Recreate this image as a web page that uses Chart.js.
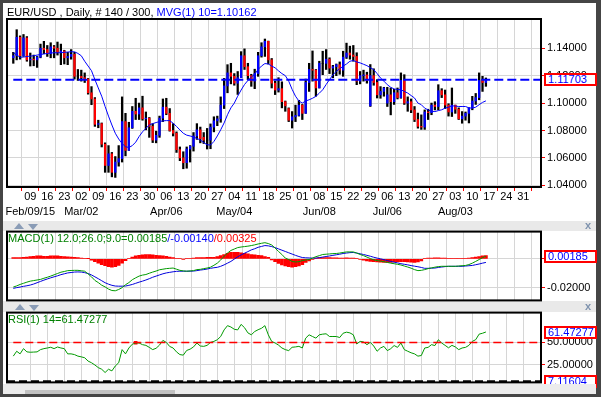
<!DOCTYPE html>
<html><head><meta charset="utf-8">
<script src="https://cdn.jsdelivr.net/npm/chart.js@4.4.1/dist/chart.umd.min.js"></script>
<style>
html,body{margin:0;padding:0;}
body{width:601px;height:397px;background:#454545;position:relative;overflow:hidden;font-family:"Liberation Sans",Arial,sans-serif;}
#inner{position:absolute;left:3px;top:3px;width:593px;height:391px;background:#fff;z-index:0;}
canvas{position:absolute;left:0;z-index:2;}
.sep{position:absolute;left:3px;width:593px;background:#e9e9e9;z-index:1;}
.txt{position:absolute;font-size:11px;white-space:nowrap;line-height:13px;z-index:5;}
.box{position:absolute;left:544px;width:47px;height:9px;border:2px solid #ff0000;background:#fff;color:#0000ff;font-size:11px;line-height:9px;padding-left:2px;white-space:nowrap;z-index:5;}
.up{position:absolute;width:0;height:0;border-left:5px solid transparent;border-right:5px solid transparent;border-bottom:6px solid #8a9cb6;z-index:4;}
.dn{position:absolute;width:0;height:0;border-left:5px solid transparent;border-right:5px solid transparent;border-top:6px solid #8a9cb6;z-index:4;}
.cl{position:absolute;font-size:11px;font-weight:bold;color:#7f93ae;z-index:4;line-height:11px;}
#bottom{position:absolute;left:3px;top:384px;width:593px;height:10px;background:#ececec;z-index:6;}
#thumb{position:absolute;left:22px;top:6px;width:150px;height:4px;background:#c2c2c2;}
</style></head>
<body>
<div id="inner"></div>
<div class="txt" style="left:7px;top:6px;color:#000">EUR/USD , Daily, # 140 / 300, <span style="color:#0000ff">MVG(1) 10=1.10162</span></div>
<div class="sep" style="top:221px;height:10px"></div>
<div class="up" style="left:14px;top:223px"></div><div class="dn" style="left:28px;top:224px"></div>
<div class="cl" style="left:585px;top:220px">x</div>
<div class="sep" style="top:301px;height:11px"></div>
<div class="up" style="left:15px;top:304px"></div><div class="dn" style="left:29px;top:305px"></div>
<div class="cl" style="left:585px;top:301px">x</div>
<div id="bottom"><div id="thumb"></div></div>
<div class="txt" style="left:8px;top:232px;color:#008000">MACD(1) 12.0;26.0;9.0=0.00185<span style="color:#0000ff">/-0.00140</span><span style="color:#ff0000">/0.00325</span></div>
<div class="txt" style="left:8px;top:313px;color:#008000">RSI(1) 14=61.47277</div>
<div class="box" id="bPrice">1.11703</div>
<div class="box" id="bMacd">0.00185</div>
<div class="box" id="bRsi">61.47277</div>
<div class="box" id="bRsiLow">7.11604</div>
<canvas id="cMain" width="601" height="222" style="top:0px"></canvas>
<canvas id="cMacd" width="601" height="86" style="top:223px"></canvas>
<canvas id="cRsi" width="601" height="87" style="top:304px"></canvas>
<script>
// ---- data (bar index 0 = Feb 2 2015, 140 daily bars to Aug 14 2015) ----
const open = [
1.1330,1.1345,1.1480,1.1345,1.1475,1.1315,1.1320,1.1315,1.1335,1.1400,
1.1390,1.1360,1.1410,1.1400,1.1370,1.1380,1.1330,1.1340,1.1355,1.1195,
1.1195,1.1185,1.1175,1.1075,1.1030,1.0845,1.0850,1.0700,1.0545,1.0630,
1.0495,1.0570,1.0595,1.0865,1.0655,1.0820,1.0940,1.0920,1.0965,1.0885,
1.0890,1.0830,1.0730,1.0765,1.0890,1.0970,1.0925,1.0800,1.0780,1.0660,
1.0600,1.0565,1.0665,1.0685,1.0760,1.0805,1.0750,1.0730,1.0730,1.0825,
1.0870,1.0885,1.0985,1.1125,1.1220,1.1195,1.1145,1.1185,1.1345,1.1265,
1.1200,1.1160,1.1215,1.1345,1.1410,1.1450,1.1315,1.1145,1.1095,1.1105,
1.1010,1.0960,1.0875,1.0900,1.0910,1.0985,1.0925,1.1150,1.1245,1.1240,
1.1110,1.1290,1.1290,1.1320,1.1255,1.1265,1.1280,1.1240,1.1335,1.1365,
1.1350,1.1340,1.1160,1.1200,1.1205,1.0980,1.1200,1.1150,1.1060,1.1085,
1.1000,1.1060,1.1010,1.1075,1.1040,1.1165,1.1000,1.1010,1.0950,1.0880,
1.0830,1.0825,1.0935,1.0930,1.0985,1.0975,1.1090,1.1060,1.0985,1.0935,
1.0985,1.0955,1.0885,1.0905,1.0925,1.0965,1.1015,1.1040,1.1165,1.1150];
const high = [
1.1370,1.1535,1.1490,1.1500,1.1485,1.1365,1.1350,1.1340,1.1430,1.1450,
1.1420,1.1440,1.1420,1.1445,1.1430,1.1385,1.1370,1.1390,1.1370,1.1245,
1.1240,1.1220,1.1180,1.1120,1.1040,1.0875,1.0855,1.0710,1.0690,1.0640,
1.0610,1.0690,1.1045,1.0925,1.0860,1.0975,1.1035,1.1000,1.1050,1.0935,
1.0895,1.0850,1.0795,1.0905,1.1030,1.1035,1.0960,1.0850,1.0790,1.0680,
1.0645,1.0680,1.0690,1.0785,1.0850,1.0825,1.0785,1.0815,1.0848,1.0900,
1.0905,1.1045,1.1180,1.1280,1.1290,1.1215,1.1230,1.1375,1.1395,1.1290,
1.1210,1.1247,1.1370,1.1440,1.1467,1.1452,1.1325,1.1160,1.1185,1.1155,
1.1015,1.0965,1.0938,1.0985,1.1020,1.0990,1.1175,1.1290,1.1380,1.1245,
1.1305,1.1378,1.1390,1.1330,1.1275,1.1285,1.1300,1.1378,1.1437,1.1415,
1.1420,1.1367,1.1230,1.1240,1.1225,1.1281,1.1250,1.1171,1.1120,1.1115,
1.1115,1.1110,1.1100,1.1110,1.1220,1.1207,1.1045,1.1030,1.0975,1.0927,
1.0914,1.0950,1.0955,1.1000,1.1010,1.1134,1.1105,1.1095,1.0995,1.1110,
1.0985,1.0965,1.0938,1.0935,1.0965,1.1049,1.1070,1.1220,1.1195,1.1183];
const low = [
1.1290,1.1315,1.1320,1.1340,1.1305,1.1270,1.1272,1.1260,1.1330,1.1360,
1.1340,1.1330,1.1330,1.1350,1.1280,1.1285,1.1280,1.1320,1.1175,1.1165,
1.1160,1.1150,1.1065,1.0988,1.0830,1.0820,1.0680,1.0495,1.0495,1.0462,
1.0458,1.0540,1.0570,1.0615,1.0655,1.0815,1.0880,1.0880,1.0875,1.0805,
1.0750,1.0712,1.0710,1.0750,1.0865,1.0915,1.0795,1.0760,1.0640,1.0580,
1.0521,1.0525,1.0570,1.0650,1.0735,1.0710,1.0705,1.0665,1.0667,1.0790,
1.0835,1.0860,1.0960,1.1075,1.1140,1.1130,1.1063,1.1185,1.1245,1.1170,
1.1122,1.1105,1.1195,1.1335,1.1340,1.1285,1.1110,1.1062,1.1080,1.0965,
1.0940,1.0865,1.0818,1.0865,1.0905,1.0880,1.0925,1.1085,1.1160,1.1050,
1.1110,1.1207,1.1245,1.1215,1.1185,1.1200,1.1210,1.1195,1.1325,1.1320,
1.1305,1.1134,1.1140,1.1160,1.1145,1.0975,1.1130,1.1037,1.1035,1.1050,
1.0975,1.0914,1.0990,1.1030,1.1035,1.0990,1.0940,1.0930,1.0865,1.0817,
1.0808,1.0808,1.0880,1.0915,1.0950,1.0951,1.1040,1.0960,1.0905,1.0902,
1.0925,1.0880,1.0853,1.0875,1.0855,1.0951,1.0990,1.1024,1.1085,1.1122];
const close = [
1.1345,1.1480,1.1345,1.1475,1.1315,1.1320,1.1315,1.1335,1.1400,1.1390,
1.1360,1.1410,1.1400,1.1370,1.1380,1.1330,1.1340,1.1355,1.1195,1.1195,
1.1185,1.1175,1.1075,1.1030,1.0845,1.0850,1.0700,1.0545,1.0630,1.0495,
1.0570,1.0595,1.0865,1.0655,1.0820,1.0940,1.0920,1.0965,1.0885,1.0890,
1.0830,1.0730,1.0765,1.0890,1.0970,1.0925,1.0800,1.0780,1.0660,1.0600,
1.0565,1.0665,1.0685,1.0760,1.0805,1.0740,1.0730,1.0730,1.0825,1.0870,
1.0885,1.0985,1.1125,1.1220,1.1195,1.1145,1.1185,1.1345,1.1265,1.1200,
1.1160,1.1215,1.1345,1.1410,1.1450,1.1315,1.1145,1.1095,1.1105,1.1010,
1.0980,1.0875,1.0900,1.0910,1.0985,1.0925,1.1150,1.1245,1.1240,1.1110,
1.1290,1.1290,1.1320,1.1255,1.1265,1.1280,1.1240,1.1335,1.1365,1.1350,
1.1340,1.1160,1.1200,1.1205,1.1165,1.1200,1.1150,1.1060,1.1085,1.1110,
1.1060,1.1010,1.1075,1.1040,1.1165,1.1000,1.1010,1.0950,1.0880,1.0830,
1.0825,1.0935,1.0930,1.0985,1.0975,1.1090,1.1060,1.0985,1.0935,1.0985,
1.0955,1.0885,1.0905,1.0925,1.0965,1.1015,1.1040,1.1165,1.1150,1.1170];
const ma10 = [
1.1367,1.1350,1.1335,1.1335,1.1340,1.1342,1.1345,1.1350,1.1354,1.1358,
1.1362,1.1365,1.1367,1.1367,1.1367,1.1370,1.1372,1.1374,1.1374,1.1362,
1.1345,1.1305,1.1270,1.1236,1.1171,1.1110,1.1050,1.0975,1.0905,1.0840,
1.0780,1.0738,1.0705,1.0682,1.0676,1.0690,1.0715,1.0756,1.0790,1.0815,
1.0841,1.0850,1.0858,1.0865,1.0870,1.0872,1.0872,1.0853,1.0830,1.0804,
1.0780,1.0766,1.0760,1.0753,1.0742,1.0731,1.0712,1.0696,1.0694,1.0720,
1.0760,1.0805,1.0855,1.0915,1.0965,1.1000,1.1050,1.1095,1.1135,1.1165,
1.1190,1.1210,1.1245,1.1270,1.1288,1.1285,1.1270,1.1257,1.1235,1.1215,
1.1200,1.1160,1.1100,1.1050,1.1015,1.1000,1.1015,1.1024,1.1035,1.1049,
1.1072,1.1097,1.1135,1.1171,1.1205,1.1232,1.1250,1.1269,1.1285,1.1305,
1.1310,1.1300,1.1293,1.1283,1.1273,1.1258,1.1244,1.1215,1.1183,1.1160,
1.1134,1.1115,1.1103,1.1100,1.1097,1.1085,1.1073,1.1055,1.1037,1.1000,
1.0988,1.0963,1.0950,1.0940,1.0938,1.0945,1.0951,1.0963,1.0970,1.0980,
1.0978,1.0975,1.0975,1.0975,1.0965,1.0963,1.0970,1.0988,1.1005,1.1016];
const macd = [
-0.0196,-0.0188,-0.0178,-0.0170,-0.0162,-0.0155,-0.0151,-0.0147,-0.0143,-0.0135,
-0.0128,-0.0120,-0.0111,-0.0102,-0.0093,-0.0088,-0.0082,-0.0081,-0.0080,-0.0080,
-0.0083,-0.0086,-0.0105,-0.0125,-0.0150,-0.0165,-0.0183,-0.0195,-0.0210,-0.0220,
-0.0222,-0.0213,-0.0200,-0.0180,-0.0165,-0.0145,-0.0132,-0.0120,-0.0113,-0.0109,
-0.0100,-0.0092,-0.0085,-0.0076,-0.0072,-0.0068,-0.0066,-0.0064,-0.0072,-0.0080,
-0.0084,-0.0086,-0.0084,-0.0082,-0.0075,-0.0073,-0.0068,-0.0064,-0.0058,-0.0045,
-0.0030,-0.0008,0.0018,0.0040,0.0058,0.0068,0.0078,0.0082,0.0085,0.0088,
0.0092,0.0097,0.0103,0.0108,0.0112,0.0106,0.0096,0.0075,0.0051,0.0030,
0.0005,-0.0005,-0.0018,-0.0022,-0.0020,-0.0012,-0.0008,-0.0005,0.0005,0.0015,
0.0022,0.0030,0.0032,0.0034,0.0036,0.0037,0.0040,0.0044,0.0048,0.0048,
0.0048,0.0040,0.0030,0.0022,0.0012,0.0002,-0.0007,-0.0012,-0.0016,-0.0020,
-0.0025,-0.0030,-0.0034,-0.0038,-0.0043,-0.0050,-0.0057,-0.0065,-0.0075,-0.0082,
-0.0080,-0.0075,-0.0068,-0.0063,-0.0058,-0.0054,-0.0052,-0.0052,-0.0052,-0.0052,
-0.0052,-0.0050,-0.0048,-0.0046,-0.0040,-0.0030,-0.0018,-0.0005,0.0008,0.0018];
const signal = [
-0.0205,-0.0200,-0.0196,-0.0191,-0.0187,-0.0182,-0.0175,-0.0166,-0.0157,-0.0148,
-0.0140,-0.0132,-0.0125,-0.0118,-0.0110,-0.0104,-0.0098,-0.0095,-0.0092,-0.0091,
-0.0092,-0.0096,-0.0102,-0.0112,-0.0125,-0.0138,-0.0152,-0.0166,-0.0176,-0.0184,
-0.0189,-0.0190,-0.0190,-0.0189,-0.0184,-0.0178,-0.0170,-0.0162,-0.0155,-0.0147,
-0.0138,-0.0128,-0.0120,-0.0112,-0.0104,-0.0098,-0.0094,-0.0090,-0.0087,-0.0086,
-0.0086,-0.0086,-0.0086,-0.0085,-0.0082,-0.0078,-0.0075,-0.0071,-0.0066,-0.0062,
-0.0059,-0.0052,-0.0042,-0.0030,-0.0018,-0.0002,0.0014,0.0027,0.0039,0.0050,
0.0062,0.0070,0.0080,0.0086,0.0092,0.0090,0.0085,0.0078,0.0069,0.0060,
0.0051,0.0042,0.0033,0.0024,0.0016,0.0009,0.0007,0.0006,0.0005,0.0005,
0.0008,0.0012,0.0016,0.0020,0.0024,0.0028,0.0032,0.0037,0.0040,0.0043,
0.0044,0.0040,0.0035,0.0030,0.0024,0.0018,0.0011,0.0005,0.0000,-0.0006,
-0.0012,-0.0018,-0.0023,-0.0028,-0.0034,-0.0038,-0.0042,-0.0047,-0.0051,-0.0055,
-0.0060,-0.0066,-0.0066,-0.0065,-0.0064,-0.0060,-0.0057,-0.0054,-0.0052,-0.0052,
-0.0052,-0.0052,-0.0052,-0.0050,-0.0048,-0.0046,-0.0041,-0.0036,-0.0030,-0.0025];
const hist = [
0.0008,0.0008,0.0009,0.0010,0.0012,0.0015,0.0018,0.0020,0.0020,0.0018,
0.0018,0.0020,0.0021,0.0021,0.0018,0.0016,0.0014,0.0012,0.0010,0.0008,
0.0006,0.0004,0.0001,-0.0010,-0.0020,-0.0030,-0.0040,-0.0048,-0.0055,-0.0058,
-0.0055,-0.0045,-0.0030,-0.0012,0.0004,0.0012,0.0020,0.0025,0.0028,0.0030,
0.0030,0.0028,0.0025,0.0022,0.0020,0.0018,0.0012,0.0008,0.0004,0.0002,
-0.0002,0.0002,0.0004,0.0006,0.0008,0.0008,0.0008,0.0010,0.0010,0.0010,
0.0015,0.0022,0.0030,0.0038,0.0045,0.0045,0.0045,0.0042,0.0038,0.0035,
0.0030,0.0028,0.0025,0.0022,0.0015,0.0010,-0.0008,-0.0020,-0.0032,-0.0042,
-0.0050,-0.0055,-0.0058,-0.0055,-0.0050,-0.0040,-0.0025,-0.0015,-0.0005,0.0005,
0.0008,0.0008,0.0008,0.0008,0.0007,0.0007,0.0006,0.0006,0.0007,0.0006,
0.0005,0.0002,-0.0005,-0.0010,-0.0015,-0.0018,-0.0020,-0.0022,-0.0024,-0.0025,
-0.0025,-0.0025,-0.0022,-0.0020,-0.0020,-0.0020,-0.0022,-0.0024,-0.0025,-0.0022,
-0.0015,0.0003,0.0005,0.0006,0.0007,0.0007,0.0006,0.0005,0.0004,0.0004,
0.0003,0.0003,0.0004,0.0004,0.0005,0.0008,0.0012,0.0016,0.0020,0.0022];
const rsi = [
34.8,40.2,37.3,43.1,39.5,39.1,39.3,39.5,42.0,43.1,
43.8,44.6,43.1,44.9,43.8,43.1,37.3,37.3,36.5,34.8,
34.0,33.0,29.3,27.5,25.0,22.1,20.3,16.7,20.3,18.5,
23.9,27.5,42.0,37.3,43.8,48.0,49.3,49.3,47.5,46.7,
44.5,42.0,43.5,47.0,52.2,50.0,45.5,43.8,39.5,36.5,
35.9,41.1,42.5,45.0,49.3,46.0,45.6,46.7,50.0,51.1,
52.9,56.5,63.8,68.5,67.0,64.5,63.8,69.9,66.3,60.5,
58.4,62.0,64.0,65.6,68.5,58.4,51.0,49.3,47.0,43.8,
42.0,40.9,44.6,45.0,45.6,43.8,54.7,58.4,56.5,54.7,
58.4,59.1,59.5,56.5,56.5,56.5,55.4,60.1,61.3,60.5,
58.4,48.2,51.1,50.5,47.5,50.0,46.0,40.2,43.8,45.6,
40.9,43.0,46.5,44.5,49.3,42.0,40.2,38.5,37.3,34.8,
35.5,43.8,44.5,47.5,46.5,52.9,49.3,46.7,44.0,46.7,
45.0,42.0,43.8,44.5,46.7,51.1,53.0,59.1,60.1,61.5];
const rsiMarkBar = [36];
const rsiMarkVal = [49.5];
// tick labels (Mondays, first Monday = bar 5, one tick every 5 bars)
const tickDays = ['09','16','23','02','09','16','23','30','06','13','20','27','04','11','18','25','01','08','15','22','29','06','13','20','27','03','10','17','24','31'];
const monthLabels = {0:'Feb/09/15',3:'Mar/02',8:'Apr/06',12:'May/04',17:'Jun/08',21:'Jul/06',25:'Aug/03'};
const firstTickBar = 5, barsPerWeek = 5;
const priceTicks = [1.04,1.06,1.08,1.10,1.12,1.14];
const macdTicks = [0,-0.02];
const rsiTicks = [25,50];
const lastPrice = 1.11703, macdLast = 0.00185, rsiLast = 61.47277, rsiLow = 7.11604, rsiMid = 50;

// ---- axes ----
const xMin = -1.85, xMax = 155.2;
Chart.defaults.font.family = '"Liberation Sans", Arial, sans-serif';
Chart.defaults.font.size = 11;
Chart.defaults.color = '#000';
const GRID = '#d6d6d6';
function xScale(show){
  return {type:'linear',min:xMin,max:xMax,offset:false,
    afterBuildTicks:s=>{s.ticks=tickDays.map((d,k)=>({value:firstTickBar+k*barsPerWeek}));},
    afterFit:s=>{s.height=show?35:0;},
    grid:{color:GRID,lineWidth:1,drawTicks:show,tickLength:4,tickColor:'#ff0000'},
    border:{display:false},
    ticks:{display:show,autoSkip:false,maxRotation:0,minRotation:0,padding:-2,color:'#000',
      font:{size:11,lineHeight:1.4},
      callback:(v,k)=>monthLabels[k]?[tickDays[k],monthLabels[k]]:tickDays[k]}};
}
function yScale(min,max,ticks){
  return {position:'right',min:min,max:max,
    afterBuildTicks:s=>{s.ticks=ticks.map(v=>({value:v}));},
    afterFit:s=>{s.width=60;},
    grid:{color:GRID,lineWidth:1,tickLength:4,tickColor:'#ff0000'},
    border:{display:false},
    ticks:{padding:2,color:'#000',font:{size:11},callback:v=>Number(v).toFixed(5)}};
}
const frame={id:'frame',afterDraw(c){const a=c.chartArea,x=c.ctx;x.save();x.strokeStyle='#000';x.lineWidth=2;
  x.strokeRect(a.left,a.top,a.right-a.left,a.bottom-a.top);x.restore();}};
const common={responsive:false,animation:false,events:[],
  plugins:{legend:{display:false},tooltip:{enabled:false}}};
const pts=(arr)=>arr.map((v,k)=>({x:k,y:v}));

const main=new Chart(document.getElementById('cMain'),{
  type:'bar',
  data:{datasets:[
    {type:'line',data:pts(ma10),borderColor:'#0000ff',borderWidth:1,pointRadius:0,order:0},
    {type:'line',data:[{x:0,y:lastPrice},{x:xMax,y:lastPrice}],borderColor:'#0000ff',borderWidth:2,borderDash:[9,4],pointRadius:0,order:0},
    {type:'bar',data:open.map((o,k)=>({x:k,y:[o,close[k]]})),
      backgroundColor:close.map((c,k)=>c>open[k]?'#0000ff':(c<open[k]?'#ff0000':'#000')),
      barThickness:1.6,grouped:false,order:1},
    {type:'bar',data:low.map((l,k)=>({x:k,y:[l,high[k]]})),backgroundColor:'#000',barThickness:1.6,grouped:false,order:2}
  ]},
  options:Object.assign({},common,{layout:{padding:{left:7,top:19,right:0,bottom:0}},
    scales:{x:xScale(true),y:yScale(1.0388,1.1613,priceTicks)}}),
  plugins:[frame]
});
const mc=new Chart(document.getElementById('cMacd'),{
  type:'bar',
  data:{datasets:[
    {type:'line',data:pts(macd),borderColor:'#009a00',borderWidth:1,pointRadius:0,order:0},
    {type:'line',data:pts(signal),borderColor:'#0000dd',borderWidth:1,pointRadius:0,order:0},
    {type:'bar',data:pts(hist),backgroundColor:'#ff0000',barThickness:3,order:1}
  ]},
  options:Object.assign({},common,{layout:{padding:{left:7,top:8,right:0,bottom:8}},
    scales:{x:xScale(false),y:yScale(-0.02887,0.0189,macdTicks)}}),
  plugins:[frame]
});
const rs=new Chart(document.getElementById('cRsi'),{
  type:'line',
  data:{datasets:[
    {data:[{x:0,y:rsiMid},{x:xMax,y:rsiMid}],borderColor:'#ff0000',borderWidth:1.5,borderDash:[8,4],pointRadius:0},
    {data:[{x:xMin,y:rsiLow},{x:xMax,y:rsiLow}],borderColor:'#000',borderWidth:2,borderDash:[8,4],pointRadius:0},
    {data:pts(rsi),borderColor:'#009a00',borderWidth:1,pointRadius:0},
    {data:rsiMarkBar.map((b,k)=>({x:b,y:rsiMarkVal[k]})),showLine:false,pointStyle:'rect',pointRadius:2.5,backgroundColor:'#ff0000',borderWidth:0}
  ]},
  options:Object.assign({},common,{layout:{padding:{left:7,top:8,right:0,bottom:8}},
    scales:{x:xScale(false),y:yScale(5.76,82.93,rsiTicks)}}),
  plugins:[frame]
});
function place(id,chart,top,val){
  const y=top+chart.scales.y.getPixelForValue(val);
  document.getElementById(id).style.top=(y-6.5)+'px';
}
place('bPrice',main,0,lastPrice);
place('bMacd',mc,223,macdLast);
place('bRsi',rs,304,rsiLast);
place('bRsiLow',rs,304,rsiLow);
</script>
</body></html>
